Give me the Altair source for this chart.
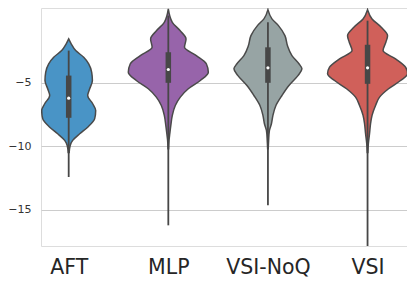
import altair as alt
import pandas as pd

groups = ["AFT", "MLP", "VSI-NoQ", "VSI"]
colors = ["#4994c6", "#9764aa", "#97a4a4", "#d0605a"]

# violin profiles: value levels and half-widths (in px)
aft_v = [-1.54, -1.93, -2.46, -2.98, -3.50, -4.17, -4.82, -5.47, -6.0, -6.65, -7.18, -7.83, -8.50, -9.02, -9.54, -9.94, -10.49]
aft_w = [0, 2.5, 7, 15, 20, 23, 23.7, 21, 19, 24, 27, 26, 19, 11, 4, 1.5, 0.5]
mlp_v = [0.83, -0.23, -0.88, -1.54, -2.2, -2.85, -3.5, -4.17, -4.82, -5.47, -6.13, -6.79, -7.57, -8.36, -9.0, -9.54, -10.2]
mlp_w = [0, 4, 11.7, 17.7, 16.2, 28, 38, 40, 32, 20, 12, 7, 4, 2.5, 1.5, 0.7, 0.3]
noq_v = [0.77, 0.04, -0.49, -1.28, -2.06, -2.85, -3.5, -3.9, -4.43, -5.21, -6.0, -6.79, -7.57, -8.23, -8.76, -9.54, -10.2]
noq_w = [0, 4, 10.5, 17, 19.5, 24, 31, 34, 30, 21, 14, 8, 5, 3.5, 1.5, 0.7, 0.3]
vsi_v = [0.77, 0.04, -0.62, -1.28, -1.8, -2.46, -3.11, -3.77, -4.29, -4.82, -5.47, -6.13, -6.79, -7.57, -8.23, -9.0, -9.8, -10.5]
vsi_w = [0, 4.5, 13.7, 20, 18.3, 15.5, 28, 38, 40, 33, 21, 12, 8, 4.5, 3, 2, 0.8, 0.3]

# inner box stats
q1 = [-7.76, -5.0, -5.0, -5.08]
q3 = [-4.43, -2.59, -2.2, -2.0]
med = [-6.21, -3.95, -3.82, -3.82]
whi = [-2.46, 0.3, -0.23, -0.1]
wlo = [-12.43, -16.24, -14.66, -18.5]

PX_PER_UNIT = 99.6
rows = []
for i, (vs, ws) in enumerate([(aft_v, aft_w), (mlp_v, mlp_w), (noq_v, noq_w), (vsi_v, vsi_w)]):
    for v, w in zip(vs, ws):
        rows.append({"g": groups[i], "pos": i, "v": v,
                     "xl": i - w / PX_PER_UNIT, "xr": i + w / PX_PER_UNIT})
vdf = pd.DataFrame(rows)
bdf = pd.DataFrame({"g": groups, "pos": list(range(4)), "q1": q1, "q3": q3,
                    "med": med, "whi": whi, "wlo": wlo})

xscale = alt.Scale(domain=[-0.278, 3.396], nice=False, zero=False)
yscale = alt.Scale(domain=[-17.87, 0.9], nice=False, zero=False)
font = "DejaVu Sans"

xaxis = alt.Axis(values=[0, 1, 2, 3], labelExpr="['AFT','MLP','VSI-NoQ','VSI'][datum.value]",
                 title=None, grid=False, domain=False, ticks=False, labelFontSize=20.5,
                 labelColor="#262626", labelFont=font, labelPadding=11)
yaxis = alt.Axis(values=[-15, -10, -5], title=None, grid=True, gridColor="#cccccc",
                 gridWidth=1, domain=False, ticks=False, labelFontSize=11,
                 labelColor="#333333", labelFont=font, labelPadding=10)

violin = alt.Chart(vdf).mark_area(orient="horizontal", interpolate="monotone", stroke="#4a4a4a",
            strokeWidth=1.5, clip=True, opacity=1, fillOpacity=1).encode(
    y=alt.Y("v:Q", scale=yscale, axis=yaxis),
    x=alt.X("xl:Q", scale=xscale, axis=xaxis, stack=None),
    x2="xr:Q",
    fill=alt.Fill("g:N", scale=alt.Scale(domain=groups, range=colors), legend=None),
    detail="g:N",
)

whisk = alt.Chart(bdf).mark_rule(color="#474747", strokeWidth=1.8, clip=True).encode(
    x=alt.X("pos:Q", scale=xscale), y=alt.Y("wlo:Q", scale=yscale), y2="whi:Q")
box = alt.Chart(bdf).mark_rule(color="#474747", strokeWidth=5.5, clip=True).encode(
    x=alt.X("pos:Q", scale=xscale), y=alt.Y("q1:Q", scale=yscale), y2="q3:Q")
medpt = alt.Chart(bdf).mark_point(filled=True, color="white", size=10, opacity=1).encode(
    x=alt.X("pos:Q", scale=xscale), y=alt.Y("med:Q", scale=yscale))

chart = alt.layer(violin, whisk, box, medpt).properties(
    width=366, height=238,
    autosize=alt.AutoSizeParams(type="none"),
    padding={"left": 33, "top": 0, "right": 0, "bottom": 40},
).configure_view(stroke="#cccccc", strokeWidth=1.25).configure(background="white")

chart.save("out.html", embed_options={"renderer": "svg", "actions": False})
